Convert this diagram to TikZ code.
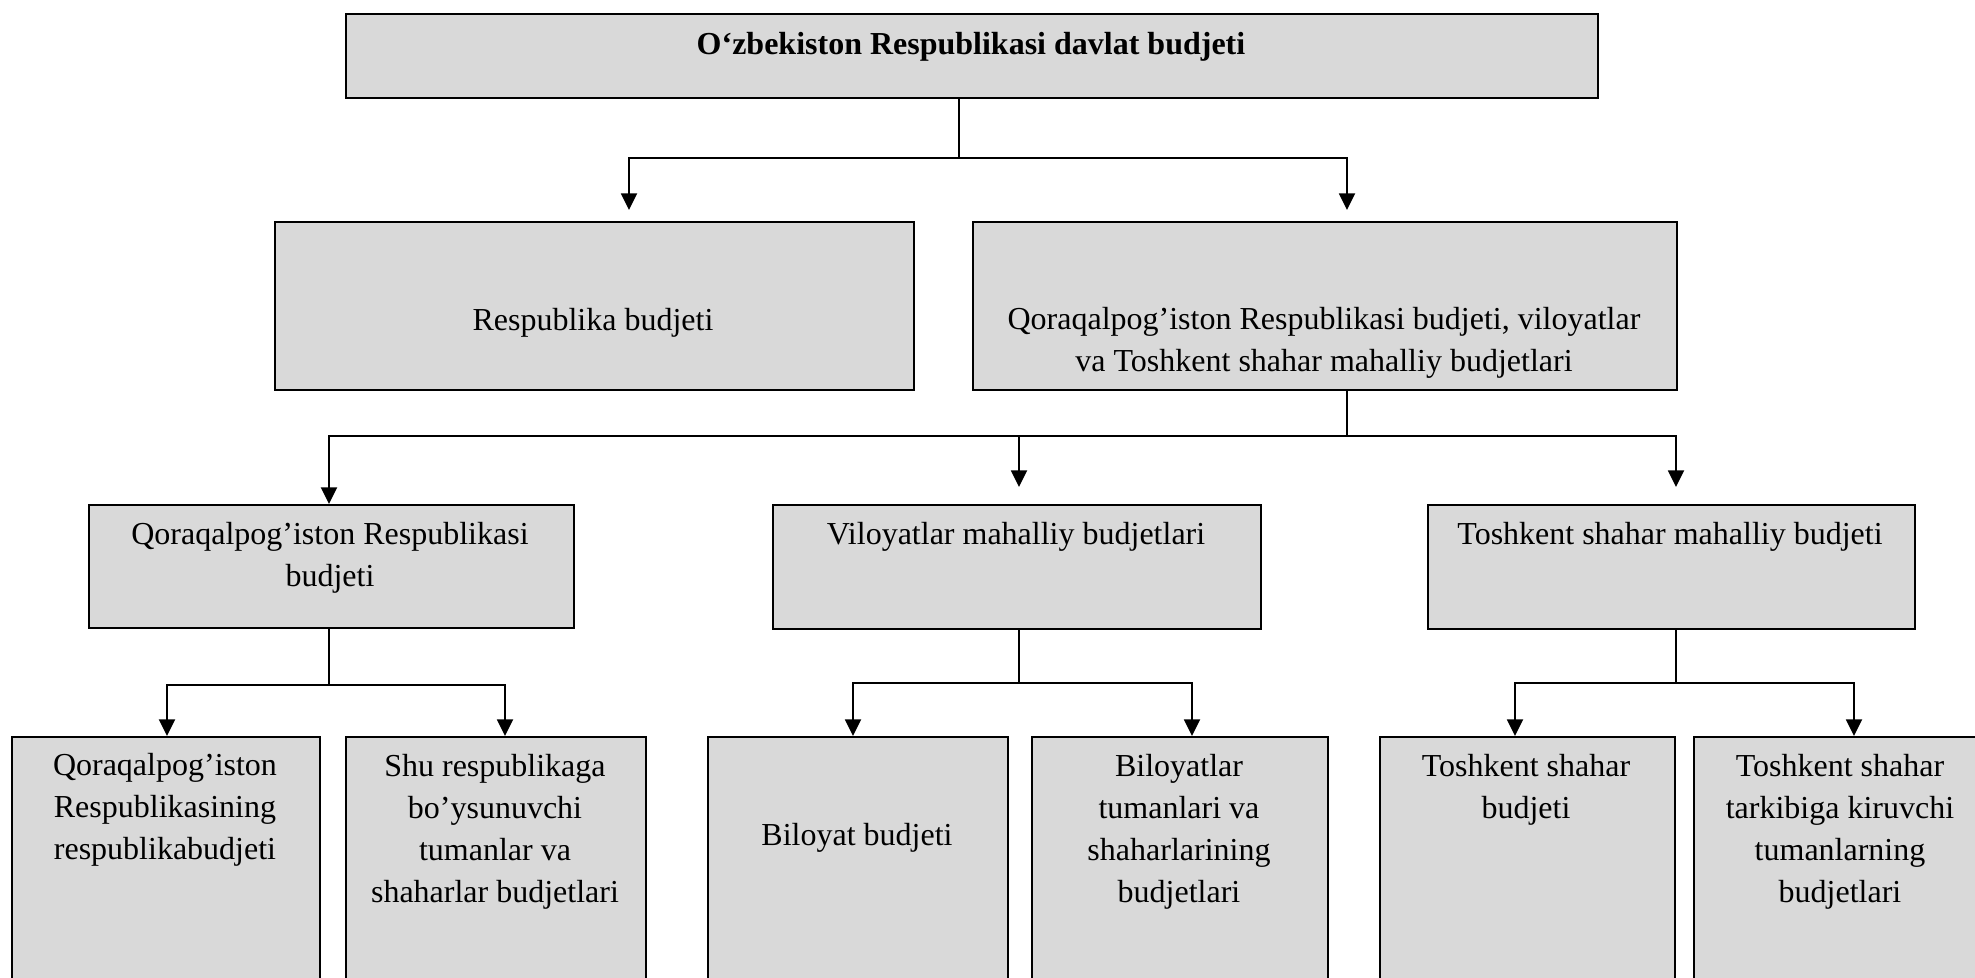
\documentclass[tikz,border=0pt]{standalone}
\usepackage{fontspec}
\setmainfont{Liberation Serif}
\usetikzlibrary{arrows.meta}
\definecolor{boxgray}{HTML}{D9D9D9}
\begin{document}
\begin{tikzpicture}[x=0.5pt,y=-0.5pt,
  box/.style={draw=black, fill=boxgray, line width=0.95pt, inner sep=0pt,
    anchor=north west},
  txt/.style={font=\fontsize{16}{21}\selectfont, align=center, inner sep=0pt},
  conn/.style={draw=black, line width=0.95pt},
  arr/.style={conn, -{Triangle[width=8pt,length=8.3pt]}}]
\useasboundingbox (0,0) rectangle (1975,978);
\clip (0,0) rectangle (1975,978);

% boxes
\node[box, minimum width=626pt, minimum height=42pt]   (top) at (345,13) {};
\node[box, minimum width=319.5pt, minimum height=84pt] (rb)  at (274,221) {};
\node[box, minimum width=352pt, minimum height=84pt]   (mb)  at (972,221) {};
\node[box, minimum width=242.5pt, minimum height=61.5pt] (qr) at (88,504) {};
\node[box, minimum width=244pt, minimum height=62pt]   (vl)  at (772,504) {};
\node[box, minimum width=243.5pt, minimum height=62pt] (ts)  at (1427,504) {};
\node[box, minimum width=154pt, minimum height=150pt]  (qa)  at (11,736) {};
\node[box, minimum width=150pt, minimum height=150pt]  (qb)  at (345,736) {};
\node[box, minimum width=150pt, minimum height=150pt]  (va)  at (707,736) {};
\node[box, minimum width=148pt, minimum height=150pt]  (vb)  at (1031,736) {};
\node[box, minimum width=147.5pt, minimum height=150pt] (ta) at (1379,736) {};
\node[box, minimum width=160pt, minimum height=150pt]  (tb)  at (1693,736) {};

% labels
\node[txt, font=\fontsize{16}{21}\selectfont\bfseries] (ttop) at (971,46.5)
  {O‘zbekiston Respublikasi davlat budjeti};
\node[txt] (trb) at (593,322.5) {Respublika budjeti};
\node[txt] (tmb) at (1324,343)
  {Qoraqalpog’iston Respublikasi budjeti, viloyatlar\\va Toshkent shahar mahalliy budjetlari};
\node[txt] (tqr) at (330,557.5) {Qoraqalpog’iston Respublikasi\\budjeti};
\node[txt] (tvl) at (1016,536.5) {Viloyatlar mahalliy budjetlari};
\node[txt] (tts) at (1670,536.5) {Toshkent shahar mahalliy budjeti};
\node[txt] (tqa) at (165,810) {Qoraqalpog’iston\\Respublikasining\\respublikabudjeti};
\node[txt] (tqb) at (495,832) {Shu respublikaga\\bo’ysunuvchi\\tumanlar va\\shaharlar budjetlari};
\node[txt] (tva) at (857,837.5) {Biloyat budjeti};
\node[txt] (tvb) at (1179,832) {Biloyatlar\\tumanlari va\\shaharlarining\\budjetlari};
\node[txt] (tta) at (1526,789.5) {Toshkent shahar\\budjeti};
\node[txt] (ttb) at (1840,832) {Toshkent shahar\\tarkibiga kiruvchi\\tumanlarning\\budjetlari};

% fork points and arrow ends
\coordinate (f1) at (959,158);
\coordinate (e1a) at (629,210);
\coordinate (e1b) at (1347,210);
\coordinate (f2) at (1347,436);
\coordinate (e2a) at (329,504);
\coordinate (e2b) at (1019,487);
\coordinate (e2c) at (1676,487);
\coordinate (f3) at (329,685);
\coordinate (e3a) at (167,736);
\coordinate (e3b) at (505,736);
\coordinate (f4) at (1019,683);
\coordinate (e4a) at (853,736);
\coordinate (e4b) at (1192,736);
\coordinate (f5) at (1676,683);
\coordinate (e5a) at (1515,736);
\coordinate (e5b) at (1854,736);

% connectors
\draw[arr] (top.south -| f1) -- (f1) -| (e1a);
\draw[arr] (f1) -| (e1b);

\draw[arr] (mb.south -| f2) -- (f2) -| (e2a);
\draw[arr] (f2) -| (e2b);
\draw[arr] (f2) -| (e2c);

\draw[arr] (qr.south -| f3) -- (f3) -| (e3a);
\draw[arr] (f3) -| (e3b);

\draw[arr] (vl.south -| f4) -- (f4) -| (e4a);
\draw[arr] (f4) -| (e4b);

\draw[arr] (ts.south -| f5) -- (f5) -| (e5a);
\draw[arr] (f5) -| (e5b);
\end{tikzpicture}
\end{document}
